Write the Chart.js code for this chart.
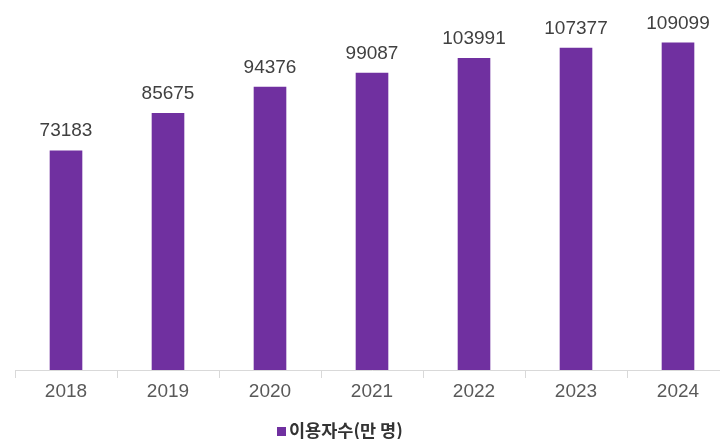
<!DOCTYPE html>
<html>
<head>
<meta charset="utf-8">
<script src="https://cdn.jsdelivr.net/npm/chart.js@4"></script>
<style>
  html, body { margin: 0; padding: 0; background: #fff; overflow: hidden; }
  #wrap { position: relative; width: 720px; height: 439px; overflow: hidden; }
  #box { position: absolute; left: 0; top: 0; width: 730px; height: 439px; }
  #legend {
    position: absolute; left: 277px; top: 419px;
    font-family: "Noto Sans CJK KR", sans-serif; font-weight: bold;
    font-size: 17.5px; color: #333; line-height: 22px; white-space: nowrap;
  }
  #legend .sw { display: inline-block; width: 9px; height: 9px; background: #7030a0; margin-right: 3px; vertical-align: 1px; }
</style>
</head>
<body>
<div id="wrap">
  <div id="box"><canvas id="chart"></canvas></div>
  <div id="legend"><span class="sw"></span>이용자수(만 명)</div>
</div>
<script>
// Chart data
const YEARS = ['2018', '2019', '2020', '2021', '2022', '2023', '2024'];
const USERS = [73183, 85675, 94376, 99087, 103991, 107377, 109099];
const SERIES_NAME = '이용자수(만 명)';

const BAR_COLOR = '#7030a0';
const LINE_COLOR = '#d9d9d9';

// Value labels above each bar
const valueLabels = {
  id: 'valueLabels',
  afterDatasetsDraw(chart) {
    const ctx = chart.ctx;
    const meta = chart.getDatasetMeta(0);
    ctx.save();
    ctx.font = '19px "Liberation Sans", Arial, sans-serif';
    ctx.fillStyle = '#404040';
    ctx.textAlign = 'center';
    ctx.textBaseline = 'alphabetic';
    meta.data.forEach((bar, i) => {
      ctx.fillText(String(USERS[i]), bar.x, bar.y - 14);
    });
    ctx.restore();
  }
};

new Chart(document.getElementById('chart'), {
  type: 'bar',
  data: {
    labels: YEARS,
    datasets: [{
      label: SERIES_NAME,
      data: USERS,
      backgroundColor: BAR_COLOR,
      borderWidth: 0,
      barPercentage: 0.32,
      categoryPercentage: 1
    }]
  },
  options: {
    responsive: true,
    maintainAspectRatio: false,
    animation: false,
    devicePixelRatio: 1,
    layout: { padding: { left: 15, right: 1, top: 0, bottom: 0 } },
    scales: {
      x: {
        grid: {
          offset: true,
          drawOnChartArea: false,
          drawTicks: true,
          tickLength: 8,
          color: LINE_COLOR
        },
        border: { color: LINE_COLOR, width: 1 },
        ticks: {
          color: '#595959',
          padding: 2,
          font: { family: '"Liberation Sans", Arial, sans-serif', size: 19 }
        },
        afterFit(scale) { scale.height = 69; }
      },
      y: {
        display: false,
        min: 0,
        max: 123300
      }
    },
    plugins: {
      legend: { display: false },
      tooltip: { enabled: false }
    }
  },
  plugins: [valueLabels]
});
</script>
</body>
</html>
